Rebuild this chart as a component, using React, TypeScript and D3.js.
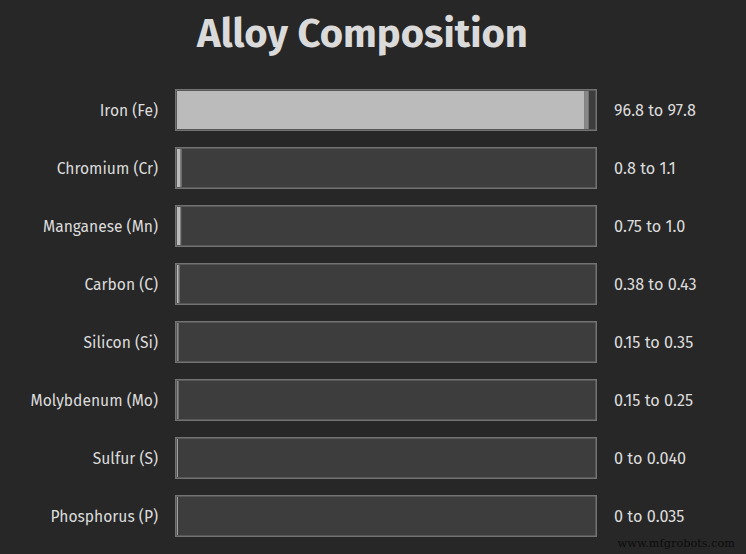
import React from 'react';
import * as d3 from 'd3';

const elements = [
  'Iron (Fe)',
  'Chromium (Cr)',
  'Manganese (Mn)',
  'Carbon (C)',
  'Silicon (Si)',
  'Molybdenum (Mo)',
  'Sulfur (S)',
  'Phosphorus (P)',
];
const minPct = [96.8, 0.8, 0.75, 0.38, 0.15, 0.15, 0, 0];
const maxPct = [97.8, 1.1, 1.0, 0.43, 0.35, 0.25, 0.04, 0.035];
const rangeLabels = [
  '96.8 to 97.8',
  '0.8 to 1.1',
  '0.75 to 1.0',
  '0.38 to 0.43',
  '0.15 to 0.35',
  '0.15 to 0.25',
  '0 to 0.040',
  '0 to 0.035',
];

const W = 746;
const H = 554;
const font = '"Fira Sans", "Open Sans", "Noto Sans", sans-serif';

const App: React.FC = () => {
  const trackX0 = 175;
  const trackX1 = 597;
  const inset = 2;

  const y = d3
    .scaleBand<string>()
    .domain(elements)
    .range([89, 89 + elements.length * 58 - 16])
    .paddingInner(16 / 58)
    .paddingOuter(0);

  const x = d3
    .scaleLinear()
    .domain([0, 100])
    .range([trackX0 + inset, trackX1 + 1]);

  const bh = y.bandwidth();

  return (
    <div style={{ position: 'absolute', left: 0, top: 0 }}>
      <svg width={W} height={H} viewBox={`0 0 ${W} ${H}`} style={{ display: 'block' }}>
        <rect width={W} height={H} fill="#272727" />
        <text
          x={362.5}
          y={47}
          textAnchor="middle"
          fill="#dadada"
          fontFamily={font}
          fontWeight="bold"
          fontSize={40}
        >
          Alloy Composition
        </text>

        {elements.map((name, i) => {
          const ty = y(name)!;
          return (
            <g key={name}>
              <text
                x={158}
                y={ty + bh / 2}
                dy="0.36em"
                textAnchor="end"
                fill="#dcdcdc"
                fontFamily={font}
                fontSize={15.6}
              >
                {name}
              </text>
              <rect
                x={trackX0 + 0.75}
                y={ty + 0.75}
                width={trackX1 - trackX0 - 1.5}
                height={bh - 1.5}
                fill="#3d3d3d"
                stroke="#737373"
                strokeWidth={1.5}
              />
              {minPct[i] > 0 && (
                <rect
                  x={x(0)}
                  y={ty + inset}
                  width={x(minPct[i]) - x(0)}
                  height={bh - inset * 2}
                  fill="#bbbbbb"
                />
              )}
              <rect
                x={x(minPct[i])}
                y={ty + inset}
                width={Math.max(x(maxPct[i]) - x(minPct[i]), 1)}
                height={bh - inset * 2}
                fill={minPct[i] > 0 ? '#888888' : '#a0a0a0'}
              />
              <text
                x={614}
                y={ty + bh / 2}
                dy="0.36em"
                fill="#dcdcdc"
                fontFamily={font}
                fontSize={16.2}
              >
                {rangeLabels[i]}
              </text>
            </g>
          );
        })}

        <text
          x={735}
          y={547}
          textAnchor="end"
          fill="#0c0c0c"
          fontFamily='"DejaVu Serif", "Liberation Serif", serif'
          fontSize={11.3}
        >
          www.mfgrobots.com
        </text>
      </svg>
    </div>
  );
};

export default App;
